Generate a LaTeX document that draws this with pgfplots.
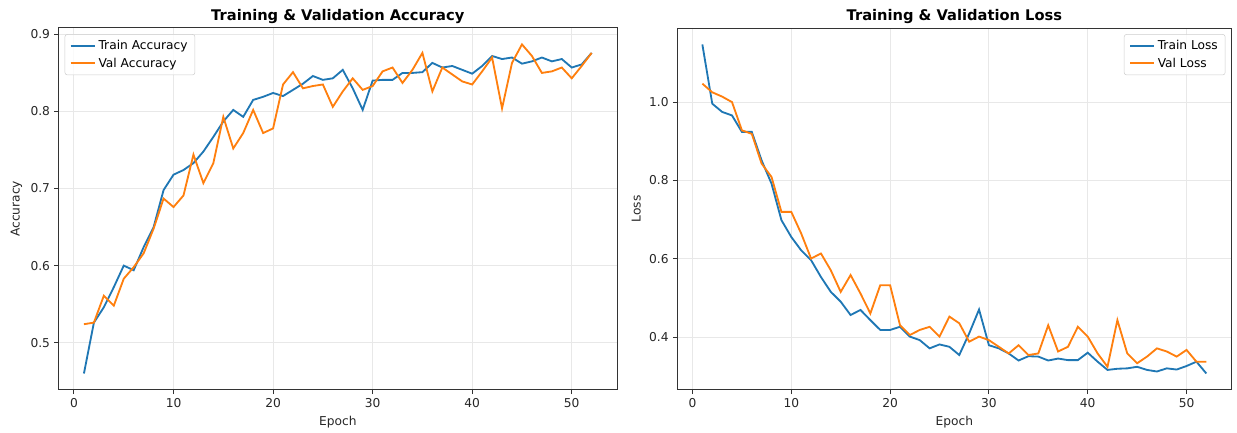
\documentclass[border=0pt]{standalone}
\usepackage{fontspec}
\setmainfont{DejaVu Sans}
\usepackage{pgfplots}
\usepackage{pgfplotstable}
\pgfplotsset{compat=1.18}
\definecolor{tabblue}{HTML}{1F77B4}
\definecolor{taborange}{HTML}{FF7F0E}

\pgfplotstableread{
e ta va tl vl
1 0.460 0.524 1.147 1.047
2 0.526 0.526 0.996 1.025
3 0.546 0.561 0.975 1.014
4 0.572 0.548 0.966 1.000
5 0.600 0.583 0.924 0.928
6 0.594 0.598 0.924 0.919
7 0.624 0.616 0.851 0.843
8 0.650 0.648 0.792 0.809
9 0.698 0.687 0.699 0.720
10 0.718 0.676 0.656 0.720
11 0.724 0.691 0.622 0.665
12 0.733 0.744 0.597 0.601
13 0.748 0.707 0.554 0.614
14 0.767 0.733 0.516 0.571
15 0.787 0.793 0.491 0.516
16 0.802 0.752 0.457 0.559
17 0.793 0.772 0.470 0.512
18 0.815 0.802 0.444 0.461
19 0.819 0.772 0.419 0.533
20 0.824 0.778 0.419 0.533
21 0.820 0.835 0.427 0.431
22 0.828 0.851 0.402 0.406
23 0.836 0.830 0.393 0.419
24 0.846 0.833 0.372 0.427
25 0.841 0.835 0.382 0.402
26 0.843 0.806 0.376 0.453
27 0.854 0.826 0.355 0.436
28 0.830 0.843 0.410 0.389
29 0.802 0.828 0.471 0.402
30 0.840 0.833 0.380 0.393
31 0.841 0.852 0.372 0.376
32 0.841 0.857 0.359 0.359
33 0.850 0.837 0.341 0.380
34 0.850 0.854 0.352 0.355
35 0.851 0.876 0.351 0.359
36 0.863 0.826 0.341 0.431
37 0.857 0.857 0.346 0.364
38 0.859 0.848 0.342 0.376
39 0.854 0.839 0.342 0.427
40 0.849 0.835 0.361 0.402
41 0.859 0.852 0.338 0.359
42 0.872 0.870 0.317 0.325
43 0.868 0.804 0.320 0.444
44 0.870 0.863 0.321 0.359
45 0.862 0.887 0.325 0.334
46 0.865 0.872 0.317 0.351
47 0.870 0.850 0.313 0.372
48 0.865 0.852 0.321 0.364
49 0.868 0.857 0.318 0.351
50 0.857 0.843 0.327 0.368
51 0.861 0.859 0.338 0.338
52 0.876 0.876 0.308 0.338
}\hist

\pgfplotsset{
  mpl/.style={
    scale only axis, height=296.1pt, anchor=south west,
    xmin=-1.55, xmax=54.55, xtick={0,10,...,50},
    xtick pos=bottom, ytick pos=left,
    tick align=outside, major tick length=3.5pt,
    tick style={black!80, line width=0.8pt},
    axis line style={line width=0.8pt, black!80},
    grid=major, major grid style={line width=0.8pt, color=black!9},
    /pgf/number format/assume math mode=true,
    ticklabel style={font=\fontsize{10}{12}\selectfont, text=black!85},
    yticklabel style={/pgf/number format/.cd, fixed, fixed zerofill, precision=1},
    label style={font=\fontsize{10}{12}\selectfont, text=black!85},
    title style={font=\bfseries\fontsize{12}{14}\selectfont, at={(0.5,1)}, anchor=base, yshift=0pt},
    legend style={font=\fontsize{10}{12}\selectfont, draw=black!20, rounded corners=2pt,
      fill=white, fill opacity=0.8, text opacity=1, row sep=1pt, inner xsep=4pt, inner ysep=3pt},
    legend cell align=left,
    legend image code/.code={\draw[#1] (0pt,0pt) -- (20pt,0pt);},
    every axis plot/.append style={line width=1.5pt},
    xlabel={Epoch},
  }
}

\begin{document}
\begin{tikzpicture}
\useasboundingbox (0,0) rectangle (1012pt,354.2pt);
\begin{axis}[mpl, at={(47.9pt,35.2pt)}, width=456.9pt,
  ymin=0.4387, ymax=0.9083, ytick={0.5,0.6,0.7,0.8,0.9},
  title={Training \& Validation Accuracy}, ylabel={Accuracy},
  legend style={at={(0.011,0.983)}, anchor=north west}]
\addplot[tabblue] table[x=e, y=ta] {\hist};
\addlegendentry{Train Accuracy}
\addplot[taborange] table[x=e, y=va] {\hist};
\addlegendentry{Val Accuracy}
\end{axis}
\begin{axis}[mpl, at={(554.0pt,35.2pt)}, width=453.5pt,
  ymin=0.266, ymax=1.189, ytick={0.4,0.6,0.8,1.0},
  title={Training \& Validation Loss}, ylabel={Loss},
  legend style={at={(0.989,0.983)}, anchor=north east}]
\addplot[tabblue] table[x=e, y=tl] {\hist};
\addlegendentry{Train Loss}
\addplot[taborange] table[x=e, y=vl] {\hist};
\addlegendentry{Val Loss}
\end{axis}
\end{tikzpicture}
\end{document}
